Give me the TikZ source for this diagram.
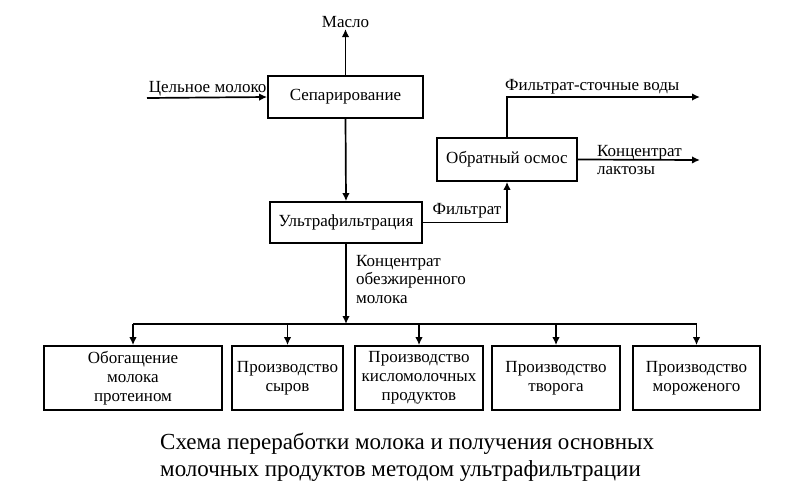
\documentclass[tikz,border=0pt]{standalone}
\usepackage{fontspec}
\setmainfont{Liberation Serif}
\usetikzlibrary{arrows.meta}

\begin{document}
\begin{tikzpicture}[x=1pt, y=-1pt,
    box/.style={draw, line width=1.7pt, inner sep=0pt, minimum height=42pt, align=center, font=\fontsize{17}{19}\selectfont},
    lowbox/.style={box, minimum height=64pt},
    lbl/.style={inner sep=1pt, align=left, font=\fontsize{17}{18.5}\selectfont},
    flow/.style={line width=1.7pt, -{Latex[length=8pt, width=7.5pt]}},
    plain/.style={line width=1.7pt}]
    \useasboundingbox (0,0) rectangle (800,501);
    % upper part
    \node[box, minimum width=155pt] (sep) at (345.5,97) {Сепарирование};
    \node[box, minimum width=152pt, minimum height=41pt] (uf) at (346,222.5) {Ультрафильтрация};
    \node[box, minimum width=140pt, minimum height=43pt] (ro) at (507,159.5) {Обратный осмос};
    \node[lbl, anchor=south] (maslo) at (345.5,29) {Масло};
    \coordinate (milk) at (147,98);
    \coordinate (waste) at (700,97);
    \coordinate (lact) at (700,160);
    \coordinate (bus) at (346,324);
    \draw[flow] (milk) -- (sep.west) node[lbl, pos=0, anchor=south west] (milklbl) {Цельное молоко};
    \draw[flow] (sep.north) -- (maslo.south);
    \draw[flow] (sep.south) -- (uf.north);
    \draw[flow] (uf.east) -| (ro.south);
    \node[lbl, anchor=south] (filtr) at (467,219) {Фильтрат};
    \draw[flow] (ro.north) |- (waste);
    \node[lbl, anchor=south west] (wastelbl) at (504,95) {Фильтрат-сточные воды};
    \draw[flow] (ro.east) -- (lact);
    \node[lbl, anchor=west] (lactlbl) at (596,160) {Концентрат\\лактозы};
    \draw[flow] (uf.south) -- (bus);
    \node[lbl, anchor=north west] (conc) at (355,254) {Концентрат\\обезжиренного\\молока};
    % products
    \node[lowbox, minimum width=178pt] (b1) at (133,378) {Обогащение\\молока\\протеином};
    \node[lowbox, minimum width=111pt] (b2) at (287.5,378) {Производство\\сыров};
    \node[lowbox, minimum width=128pt] (b3) at (419,378) {Производство\\кисломолочных\\продуктов};
    \node[lowbox, minimum width=128pt] (b4) at (556,378) {Производство\\творога};
    \node[lowbox, minimum width=127pt] (b5) at (696.5,378) {Производство\\мороженого};
    \draw[plain] (b1.north |- bus) -- (b5.north |- bus);
    \foreach \b in {b1,b2,b3,b4,b5}
        \draw[flow] (\b.north |- bus) -- (\b.north);
    % caption
    \node[anchor=north west, inner sep=0pt, align=left, font=\fontsize{23}{27}\selectfont] (title) at (160,433)
        {Схема переработки молока и получения основных\\молочных продуктов методом ультрафильтрации};
\end{tikzpicture}
\end{document}
